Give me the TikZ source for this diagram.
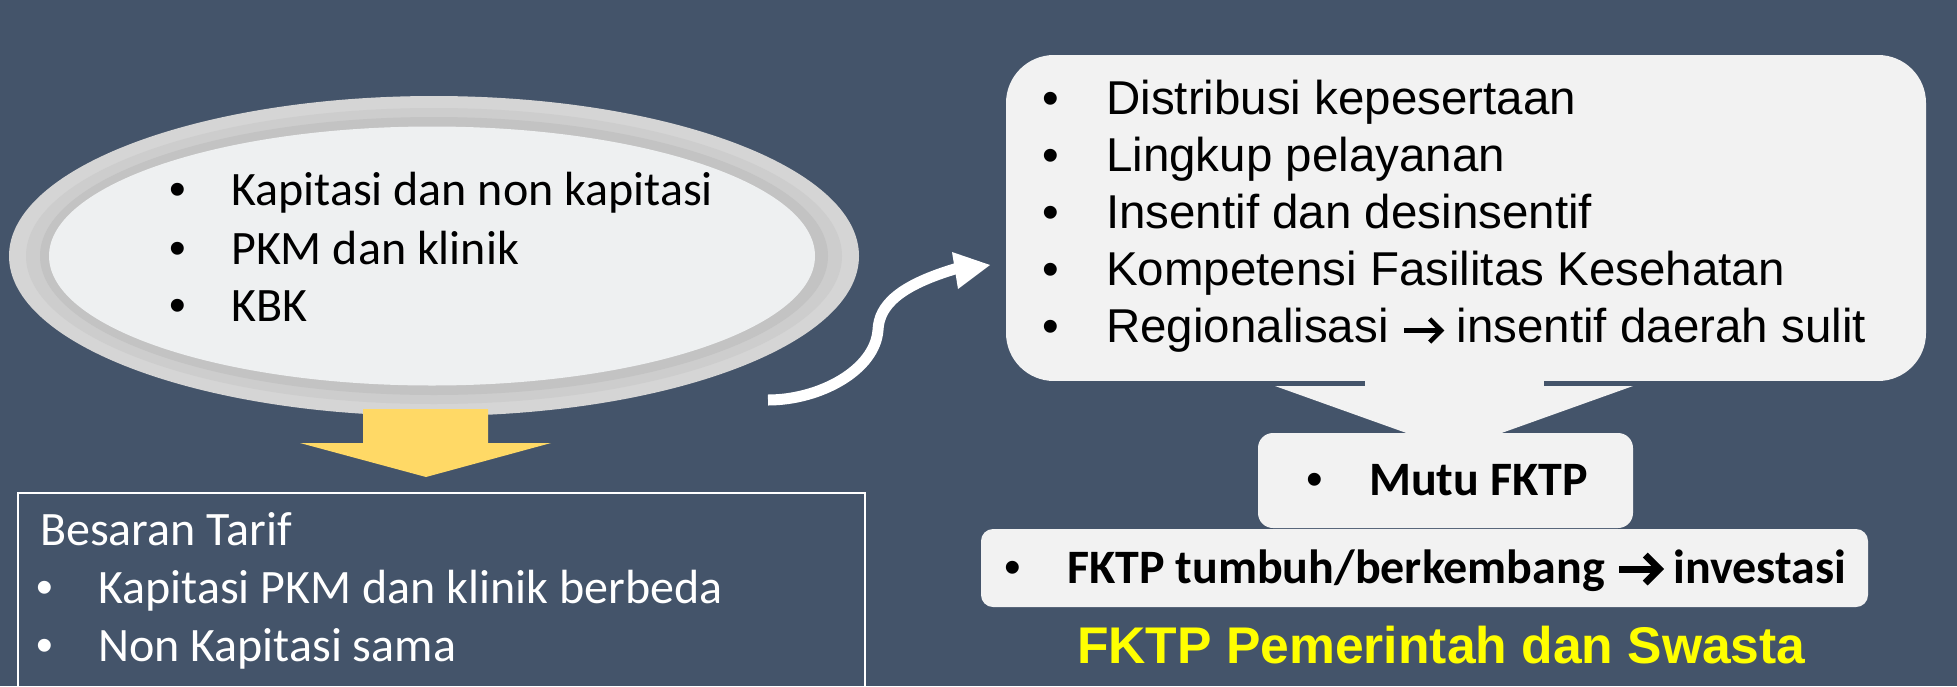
\documentclass[tikz,border=0pt]{standalone}
\usepackage{fontspec}
\usetikzlibrary{shapes.geometric}
\setmainfont{Carlito}
\newfontfamily\arialf{Liberation Sans}
\definecolor{bg}{HTML}{44546A}
\definecolor{boxfill}{HTML}{F2F2F2}
\definecolor{ell1}{HTML}{D5D5D5}
\definecolor{ell2}{HTML}{CDCDCD}
\definecolor{ell3}{HTML}{C3C3C3}
\definecolor{ellin}{HTML}{EEF0F1}
\definecolor{yarrow}{HTML}{FFD966}
\definecolor{ytext}{HTML}{FFFF00}
\tikzset{
  txt/.style={anchor=base west, inner sep=0pt, font=\fontsize{48pt}{56pt}\selectfont},
  bul/.style={anchor=base, inner sep=0pt, font=\arialf\fontsize{47.5pt}{56pt}\selectfont},
  atxt/.style={anchor=base west, inner sep=0pt, font=\arialf\fontsize{47.5pt}{57pt}\selectfont},
  btxt/.style={anchor=base west, inner sep=0pt, font=\bfseries\fontsize{48pt}{56pt}\selectfont},
  rbox/.style={fill=boxfill, draw=none, inner sep=0pt},
}
% inline arrow glyph: #1 stroke, #2 width, #3 height
\newcommand{\myarrow}[3]{\tikz[baseline=0pt, x=1pt, y=1pt]{%
  \draw[line width=#1pt, line cap=butt] (0,#3/2) -- (#2-2,#3/2);
  \draw[line width=#1pt, line join=miter, line cap=butt] (#2-#3/2-2,#3) -- (#2-2,#3/2) -- (#2-#3/2-2,0);}}
\begin{document}
\begin{tikzpicture}[x=1pt,y=-1pt]
\fill[bg] (0,0) rectangle (1957,686);
\useasboundingbox (0,0) rectangle (1957,686);
\clip (0,0) rectangle (1957,686);

% left ellipse with soft ring
\fill[ell1] (434,256) ellipse [x radius=425pt, y radius=160pt];
\fill[ell2] (434,256) ellipse [x radius=408pt, y radius=148pt];
\fill[ell3] (434,256) ellipse [x radius=394pt, y radius=139pt];
\node[ellipse, fill=ellin, minimum width=766pt, minimum height=259pt, inner sep=0pt] (ell) at (432,256) {};

\node[bul] (b1) at (178,205) {•};
\node[txt] (t1) at (231,205) {Kapitasi dan non kapitasi};
\node[bul] (b2) at (178,264) {•};
\node[txt] (t2) at (231,264) {PKM dan klinik};
\node[bul] (b3) at (178,321) {•};
\node[txt] (t3) at (231,321) {KBK};

% yellow down arrow
\fill[yarrow] (363,409) -- (488,409) -- (488,443) -- (551,443) -- (426,477) -- (300,443) -- (363,443) -- cycle;

% bottom-left box
\draw[white, line width=2pt] (18,493) rectangle (865,720);
\node[txt, text=white] (bt) at (40,545) {Besaran Tarif};
\node[bul, text=white] (bb1) at (45,603) {•};
\node[txt, text=white] (bt1) at (98,603) {Kapitasi PKM dan klinik berbeda};
\node[bul, text=white] (bb2) at (45,661) {•};
\node[txt, text=white] (bt2) at (98,661) {Non Kapitasi sama};

% S-shaped white arrow
\coordinate (sa) at (768,400);
\coordinate (sm) at (878,330);
\coordinate (se) at (958,268);
\draw[white, line width=11pt] (sa) .. controls (820,400) and (875,370) .. (sm)
   .. controls (879,305) and (900,285) .. (se);
\fill[white] (952,252) -- (990,265) -- (958,289) -- cycle;

% top-right rounded box
\node[rbox, rounded corners=48pt, minimum width=920pt, minimum height=326pt] (tr) at (1466,218) {};
\foreach \i/\t in {0/Distribusi kepesertaan,1/Lingkup pelayanan,2/Insentif dan desinsentif,3/Kompetensi Fasilitas Kesehatan}{
  \node[bul] (rb\i) at (1051,114+57*\i) {•};
  \node[atxt] (rt\i) at (1106,114+57*\i) {\t};
}
\node[bul] (rb4) at (1051,342) {•};
\node[atxt] (rt4) at (1106,342) {Regionalisasi \myarrow{4.5}{39}{23} insentif daerah sulit};

% gray down arrow
\fill[boxfill] (1365,370) -- (1544,370) -- (1544,386) -- (1633,386) -- (1454,450) -- (1275,386) -- (1365,386) -- cycle;
\fill[bg] (1006,381) rectangle (1365,386);
\fill[bg] (1544,381) rectangle (1926,386);

% Mutu box
\node[rbox, rounded corners=15pt, minimum width=375pt, minimum height=95pt] (mutu) at (1445.5,480.5) {};
\node[bul] (mb) at (1315,495) {•};
\node[btxt] (mt) at (1369,495) {Mutu FKTP};

% FKTP tumbuh box
\node[rbox, rounded corners=12pt, minimum width=887pt, minimum height=78pt] (tum) at (1424.5,568) {};
\node[bul] (fb) at (1013,583) {•};
\node[btxt] (ft) at (1067,583) {FKTP tumbuh/berkembang \myarrow{7}{42}{28} investasi};

% yellow title
\node[anchor=base west, inner sep=0pt, text=ytext, font=\arialf\bfseries\fontsize{51.6pt}{60pt}\selectfont] (title) at (1077,663) {FKTP Pemerintah dan Swasta};
\end{tikzpicture}
\end{document}
